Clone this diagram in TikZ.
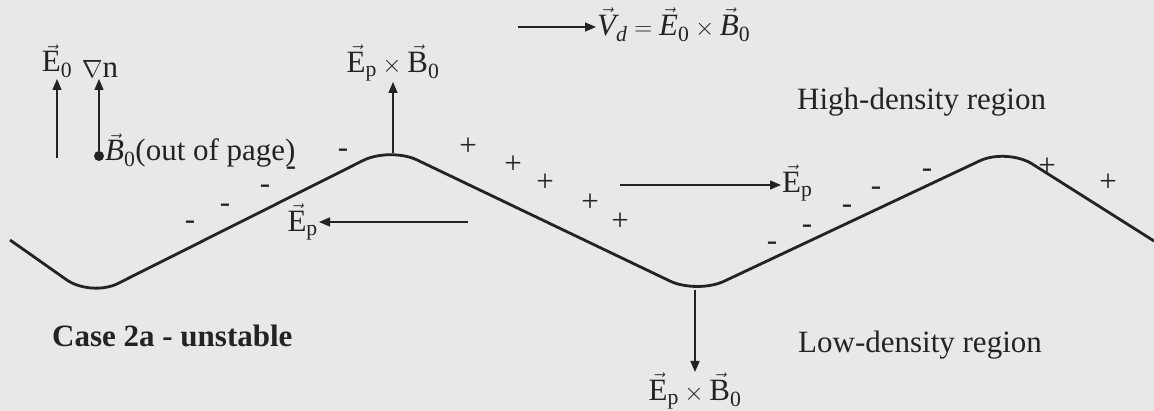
\documentclass[tikz,border=0pt]{standalone}
\usepackage{amsmath}
\usepackage{fontspec}
\setmainfont{Liberation Serif}
\usetikzlibrary{positioning,arrows.meta}
\definecolor{paper}{RGB}{232,232,231}
\definecolor{ink}{RGB}{35,35,35}
\newcommand{\vecE}{\vec{\text{E}}}
\newcommand{\vecB}{\vec{\text{B}}}

\begin{document}
\begin{tikzpicture}[x=1pt, y=-1pt,
  wave/.style={draw=ink, line width=2.8pt, rounded corners=30pt, line join=round},
  arr/.style={-{Triangle[length=11pt, width=9pt]}, draw=ink, line width=1.4pt},
  lbl/.style={inner sep=1pt, text=ink, font=\fontsize{31}{36}\selectfont},
  chg/.style={inner sep=0pt, text=ink, font=\fontsize{31}{36}\selectfont},
  minus/.style={chg, yshift=-3pt},
  dotmark/.style={circle, fill=ink, inner sep=0pt, minimum size=10pt}
]
\fill[paper] (0,0) rectangle (1154,411);
\useasboundingbox (0,0) rectangle (1154,411);

% the perturbed boundary
\draw[wave] (10,240) -- (91,297) -- (390,147) -- (697,294) -- (1007,148) -- (1154,241);

% legend at top left
\node[lbl, anchor=south] (e0) at (57,79) {$\vecE_{\text{0}}$};
\node[lbl, anchor=south] (gradn) at (100,79) {$\nabla$n};
\coordinate (e0base) at (57,158);
\node[dotmark] (bdot) at (99,156) {};
\node[lbl, anchor=base west] (bzero) at (104,161) {$\vec{\textit{B}}_{\text{0}}$(out of page)};
\draw[arr] (e0base) -- (e0base |- e0.south);
\draw[arr] (bdot) -- (bdot |- gradn.south);

% drift velocity
\coordinate (vstart) at (518,27);
\node[lbl, anchor=west] (vd) at (596,25) {$\vec{\textit{V}}_{\textit{d}}=\vec{\textit{E}}_{\text{0}}\times\vec{\textit{B}}_{\text{0}}$};
\draw[arr] (vstart) -- (vstart -| vd.west);

% E_p x B_0 at crest and trough
\coordinate (crest) at (393,153);
\node[lbl, anchor=south] (ebup) at (393,82) {$\vecE_{\text{p}}\times\vecB_{\text{0}}$};
\draw[arr] (crest) -- (ebup);
\coordinate (trough) at (695,290);
\node[lbl, anchor=north] (ebdown) at (695,372) {$\vecE_{\text{p}}\times\vecB_{\text{0}}$};
\draw[arr] (trough) -- (ebdown);

% perturbation fields
\coordinate (epstartl) at (468,222);
\node[lbl, anchor=east] (epl) at (319,222) {$\vecE_{\text{p}}$};
\draw[arr] (epstartl) -- (epstartl -| epl.east);
\coordinate (epstartr) at (620,185);
\node[lbl, anchor=west] (epr) at (781,183) {$\vecE_{\text{p}}$};
\draw[arr] (epstartr) -- (epstartr -| epr.west);

% charges
\foreach \x/\y [count=\i] in {190/222, 225/205, 265/186, 291/168, 343/150,
    772/243, 807/226, 847/206, 876/188, 927/170}
  \node[minus] (neg\i) at (\x,\y) {-};
\foreach \x/\y [count=\i] in {468/147, 513/165, 545/183, 590/203, 620/222,
    1047/167, 1108/183}
  \node[chg] (pos\i) at (\x,\y) {+};

% region labels
\node[lbl, anchor=base west] (high) at (796,110) {High-density region};
\node[lbl, anchor=base west] (low) at (797,353) {Low-density region};
\node[lbl, anchor=base west, font=\fontsize{31}{36}\selectfont\bfseries] (case) at (51,347) {Case 2a - unstable};
\end{tikzpicture}
\end{document}
